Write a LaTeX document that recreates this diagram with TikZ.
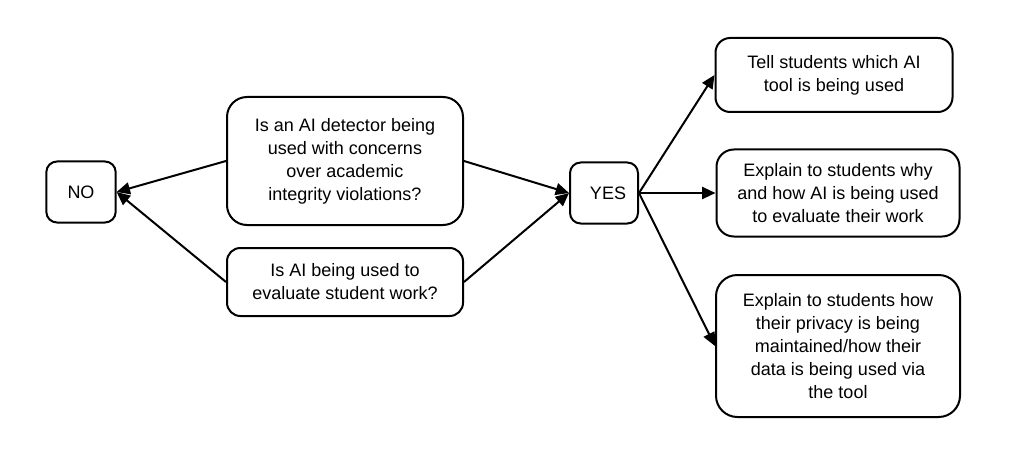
\documentclass[tikz,border=0pt]{standalone}
\usepackage{fontspec}
\setmainfont{Liberation Sans}
\usepackage{tikz}
\usetikzlibrary{positioning,shapes,arrows.meta}

\begin{document}
\begin{tikzpicture}[x=0.75pt, y=-0.75pt, >={Triangle[length=10pt,width=9pt]},
  every box/.style={draw, line width=1.5pt, align=center, inner sep=0pt,
    font=\fontsize{13.5}{17.25}\selectfont},
  answer/.style={every box, rounded corners=8pt, minimum width=52pt, minimum height=45.75pt},
  arrow/.style={->, line width=1.5pt}]

\useasboundingbox (0,0) rectangle (1010,449);

% yes / no
\node [answer] (no) at (81,192) {NO};
\node [answer, minimum width=51pt] (yes) at (604,193) {\hspace*{6pt}YES};

% questions
\node [every box, rounded corners=15pt, minimum width=177pt, minimum height=96pt] (q-1) at (345,161)
  {Is an AI detector being\\used with concerns\\over academic\\integrity violations?};
\node [every box, rounded corners=10pt, minimum width=177pt, minimum height=51pt] (q-2) at (345,282)
  {Is AI being used to\\evaluate student work?};

% what to do
\node [every box, rounded corners=11pt, minimum width=177.75pt, minimum height=55.5pt] (act-1) at (834,75)
  {Tell students which AI\\tool is being used};
\node [every box, rounded corners=13pt, minimum width=182.25pt, minimum height=65.25pt] (act-2) at (838,193)
  {Explain to students why\\and how AI is being used\\to evaluate their work};
\node [every box, rounded corners=16pt, minimum width=183pt, minimum height=106.5pt] (act-3) at (838,346)
  {Explain to students how\\their privacy is being\\maintained/how their\\data is being used via\\the tool};

\foreach \i in {1,2}
  \draw [arrow] (q-\i.west) -- (no.east);

\foreach \i in {1,2}
  \draw [arrow] (q-\i.east) -- (yes.west);

\foreach \j in {1,2,3}
  \draw [arrow] (yes.east) -- (act-\j.west);

\end{tikzpicture}
\end{document}
